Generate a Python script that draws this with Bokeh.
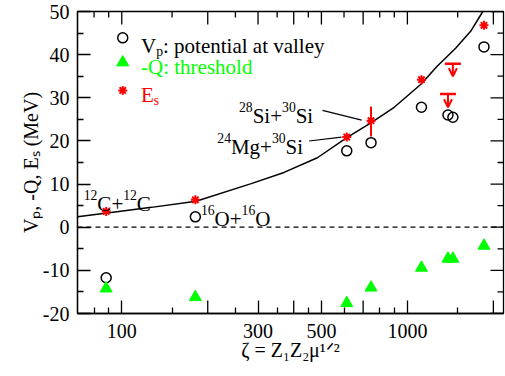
import math
from bokeh.plotting import figure
from bokeh.models import (FixedTicker, Span, Label, ColumnDataSource, Arrow, OpenHead,
                          NumeralTickFormatter)
from bokeh.embed import file_html
from bokeh.resources import INLINE

# ---------------- data ----------------
zeta = [88.2, 181.0, 613.4, 746.0, 1120.0, 1387.0, 1443.0, 1854.0]
vp = [-11.7, 2.4, 17.7, 19.6, 27.8, 26.0, 25.5, 41.8]
neg_q = [-14.2, -16.2, -17.6, -14.0, -9.4, -7.3, -7.3, -4.3]

es_zeta = [88.2, 181.0, 613.4, 746.0, 1120.0, 1854.0]
es = [3.65, 6.35, 20.9, 24.7, 34.2, 46.8]

err_zeta = [746.0]
err_low = [21.0]
err_high = [28.0]

lim_zeta = [1387.0, 1443.0]
lim_top = [30.9, 37.9]
lim_tip = [27.8, 35.0]

curve_zeta = [70, 89, 127, 182, 284, 370, 484, 612, 745, 899, 1118, 1271, 1475, 1665, 1837, 1900]
curve_y = [2.4, 3.3, 4.6, 6.0, 10.1, 12.7, 16.1, 20.7, 24.2, 27.8, 33.2, 37.3, 41.5, 45.4, 50.0, 51.3]

X_MIN, X_MAX = 70, 2170
Y_MIN, Y_MAX = -20, 50
x_labeled = [100, 300, 500, 1000]
x_unlabeled = [200, 400, 700, 2000]
x_minor = [80, 90, 150, 250, 350, 450, 600, 800, 900, 1500]
y_major = [-20, -10, 0, 10, 20, 30, 40, 50]
y_minor = [-15, -5, 5, 15, 25, 35, 45]
y_labels = {-20: "-20", -10: "-10", 0: "0", 10: "10", 20: "20", 30: "30", 40: "40", 50: "50"}

# annotation anchors (data coordinates)
ptr_x0 = [504.4, 452.9]
ptr_y0 = [27.07, 19.98]
ptr_x1 = [691.8, 587.6]
ptr_y1 = [24.83, 20.9]

legend_mx = 100.8
legend_my = [43.9, 38.2, 31.7]
legend_tx = 116.8
legend_ty = [42.0, 37.2, 30.7]

FONT = "'Liberation Serif', 'Times New Roman', serif"
GREEN = "#00ff00"
RED = "#ff0000"

# Times-metric advance widths (per em)
W = {'0': .5, '1': .5, '2': .5, '3': .5, '4': .5, '5': .5, '6': .5, '7': .5, '8': .5, '9': .5,
     'C': .667, '+': .564, 'O': .722, 'S': .556, 'i': .278, 'M': .889, 'g': .5, 'V': .722,
     'p': .5, ':': .278, ' ': .25, 'o': .5, 't': .278, 'e': .444, 'n': .5, 'a': .444,
     'l': .278, 'v': .5, 'y': .5, '-': .333, 'Q': .722, 'h': .5, 'r': .333, 's': .389,
     'd': .5, 'E': .611, ',': .25}


def tw(s, size):
    return sum(W.get(c, 0.5) for c in s) * size


p = figure(x_axis_type="log", x_range=(X_MIN, X_MAX), y_range=(Y_MIN, Y_MAX),
           width=505, height=376, output_backend="svg", toolbar_location=None,
           min_border_left=77, min_border_right=2, min_border_top=11, min_border_bottom=63)
p.grid.visible = False
p.outline_line_color = "black"
p.outline_line_width = 1.3
p.background_fill_color = "white"
p.border_fill_color = "white"

for ax in (p.xaxis[0], p.yaxis[0]):
    ax.axis_line_width = 1.3
    ax.major_tick_in = 13
    ax.major_tick_out = 0
    ax.minor_tick_in = 6
    ax.minor_tick_out = 0
    ax.major_tick_line_width = 1.3
    ax.minor_tick_line_width = 1.3
    ax.major_label_text_font = FONT
    ax.major_label_text_font_size = "20px"
    ax.major_label_text_color = "black"
    ax.axis_label_text_font = FONT
    ax.axis_label_text_font_style = "normal"
    ax.axis_label_text_font_size = "20px"
    ax.axis_label_text_color = "black"

p.xaxis.ticker = FixedTicker(ticks=x_labeled, minor_ticks=x_minor)
p.xaxis.formatter = NumeralTickFormatter(format="0")
p.xaxis.major_label_standoff = 10
p.xaxis.axis_label = "ζ = Z₁Z₂μ¹ᐟ²"
p.xaxis.axis_label_standoff = -2

p.yaxis.ticker = FixedTicker(ticks=y_major, minor_ticks=y_minor)
p.yaxis.major_label_overrides = y_labels
p.yaxis.major_label_standoff = 8
p.yaxis.axis_label = "Vₚ, -Q, Eₛ (MeV)"
p.yaxis.axis_label_standoff = -2

# unlabeled long ticks on the bottom and mirrored ticks on top / right (half clipped by frame)
TK = dict(marker="dash", line_color="black", line_width=1.3)
p.scatter(x_unlabeled, [Y_MIN] * len(x_unlabeled), angle=math.pi / 2, size=26, **TK)
p.scatter(x_labeled + x_unlabeled, [Y_MAX] * 8, angle=math.pi / 2, size=26, **TK)
p.scatter(x_minor, [Y_MAX] * len(x_minor), angle=math.pi / 2, size=12, **TK)
p.scatter([X_MAX] * len(y_major), y_major, size=26, **TK)
p.scatter([X_MAX] * len(y_minor), y_minor, size=12, **TK)

# zero line
p.add_layout(Span(location=0, dimension="width", line_color="black",
                  line_dash="5 4", line_width=1.3))

# fitted curve
p.line(curve_zeta, curve_y, line_color="black", line_width=1.5)

# pointer lines
p.segment(x0=ptr_x0, y0=ptr_y0, x1=ptr_x1, y1=ptr_y1, line_color="black", line_width=1.2)

# error bar
p.segment(x0=err_zeta, y0=err_low, x1=err_zeta, y1=err_high, line_color=RED, line_width=2)

# series
p.scatter(zeta, vp, marker="circle", size=10, fill_color=None, line_color="black", line_width=1.5)
p.scatter(zeta, neg_q, marker="triangle", size=12, fill_color=GREEN, line_color=GREEN)
p.scatter(es_zeta, es, marker="asterisk", size=9, line_color=RED, line_width=2)

# upper limits
p.scatter(lim_zeta, lim_top, marker="dash", size=16, line_color=RED, line_width=2.5)
lim_src = ColumnDataSource(dict(x=lim_zeta, y0=lim_top, y1=lim_tip))
p.add_layout(Arrow(source=lim_src, x_start="x", y_start="y0", x_end="x", y_end="y1",
                   line_color=RED, line_width=2,
                   end=OpenHead(size=8, line_color=RED, line_width=2)))

# legend markers
p.scatter([legend_mx], [legend_my[0]], marker="circle", size=10, fill_color=None,
          line_color="black", line_width=1.5)
p.scatter([legend_mx], [legend_my[1]], marker="triangle", size=12, fill_color=GREEN, line_color=GREEN)
p.scatter([legend_mx], [legend_my[2]], marker="asterisk", size=9, line_color=RED, line_width=2)


def rich(x, y, pieces, size, color="black", align="left"):
    sizes = [size if k == "n" else size * 0.65 for _, k in pieces]
    widths = [tw(t, s) for (t, _), s in zip(pieces, sizes)]
    adv = -sum(widths) if align == "right" else 0.0
    for (t, k), s, w in zip(pieces, sizes, widths):
        rise = 0.0 if k == "n" else (0.42 * size if k == "sup" else -0.28 * size)
        p.add_layout(Label(x=x, y=y, text=t, x_offset=adv, y_offset=rise,
                           text_font=FONT, text_font_size=f"{s:.1f}px", text_color=color,
                           text_baseline="alphabetic", text_align="left"))
        adv += w


LS = 21
rich(legend_tx, legend_ty[0], [("V", "n"), ("p", "sub"), (": potential at valley", "n")], LS)
rich(legend_tx, legend_ty[1], [("-Q: threshold", "n")], LS, GREEN)
rich(legend_tx, legend_ty[2], [("E", "n"), ("s", "sub")], LS, RED)

rich(73.6, 5.4, [("12", "sup"), ("C+", "n"), ("12", "sup"), ("C", "n")], LS)
rich(189.3, 1.9, [("16", "sup"), ("O+", "n"), ("16", "sup"), ("O", "n")], LS)
rich(468.0, 25.8, [("28", "sup"), ("Si+", "n"), ("30", "sup"), ("Si", "n")], LS, align="right")
rich(431.5, 18.7, [("24", "sup"), ("Mg+", "n"), ("30", "sup"), ("Si", "n")], LS, align="right")

open("out.html", "w").write(file_html(p, INLINE))
